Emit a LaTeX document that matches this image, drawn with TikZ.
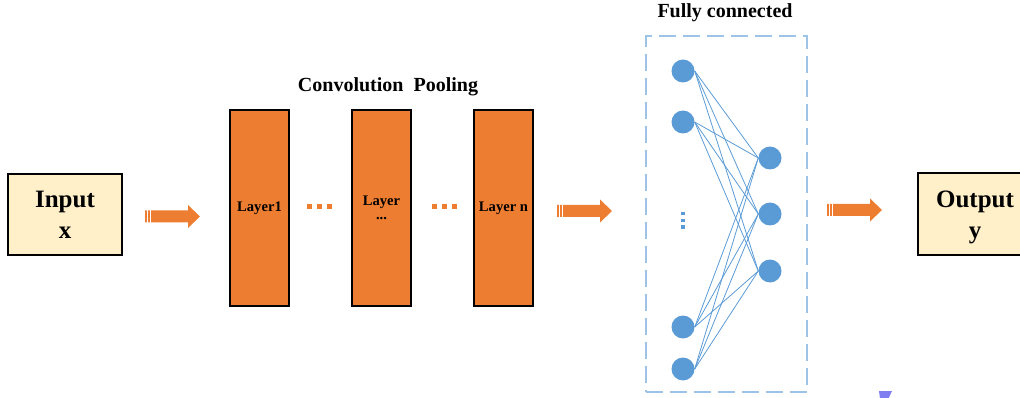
\documentclass[tikz,border=0pt]{standalone}
\usepackage{fontspec}
\setmainfont{Liberation Serif}
\definecolor{boxfill}{HTML}{FFF0C9}
\definecolor{layerorange}{HTML}{ED7D31}
\definecolor{neuronblue}{HTML}{5B9BD5}
\definecolor{framblue}{HTML}{9DC3E6}
\definecolor{markviolet}{HTML}{7F7FF2}
\tikzset{
  iobox/.style={draw=black, line width=2pt, fill=boxfill, minimum width=114pt, minimum height=81pt,
    align=center, font=\fontsize{25}{31}\selectfont\bfseries, inner sep=0pt},
  layerbox/.style={draw=black, line width=2pt, fill=layerorange, minimum width=59pt, minimum height=196pt,
    align=center, font=\fontsize{14.6}{17}\selectfont\bfseries, inner sep=0pt},
  title/.style={font=\fontsize{20}{23}\selectfont\bfseries, inner sep=0pt},
  neuron/.style={circle, fill=neuronblue, minimum size=23pt, inner sep=0pt},
  link/.style={draw=neuronblue, line width=0.8pt},
  fcbox/.style={draw=framblue, line width=1.6pt, dash pattern=on 17pt off 7pt, minimum width=161pt, minimum height=356pt},
  sqdot/.style={fill=layerorange, minimum size=5pt, inner sep=0pt},
  vdot/.style={fill=neuronblue, minimum size=3.5pt, inner sep=0pt},
  blockarrow/.pic={
    \fill[layerorange] (0,-6) -- (43,-6) -- (43,-11.5) -- (55,0) -- (43,11.5) -- (43,6) -- (0,6) -- cycle;
    \draw[white, line width=0.7pt] (2.5,-7) -- (2.5,7) (5.5,-7) -- (5.5,7);
  }
}
\begin{document}
\begin{tikzpicture}[x=1pt, y=-1pt]
\useasboundingbox (0,0) rectangle (1020,398);

% input and output blocks
\node[iobox] (in) at (65,214.5) {Input\\x};
\node[iobox] (out) at (975,214) {};
\node[font=\fontsize{25}{31}\selectfont\bfseries, align=center, inner sep=0pt] (outtxt) at (975,217.5) {Output\\y};

% convolution / pooling stack
\node[title] (cp) at (388,87) {Convolution\ \ Pooling};
\node[layerbox] (l1) at (259.5,208) {Layer1};
\node[layerbox] (l2) at (381.5,208) {Layer\\[-3pt]...};
\node[layerbox] (ln) at (503.5,208) {Layer n};

\foreach \i/\x in {a/309, b/319, c/329} \node[sqdot] (d1\i) at (\x,207) {};
\foreach \i/\x in {a/434.5, b/444.5, c/454.5} \node[sqdot] (d2\i) at (\x,207) {};

% block arrows between stages
\pic at (145,216.5) {blockarrow};
\pic at (557,211) {blockarrow};
\pic at (827,210) {blockarrow};

% fully connected part
\node[title] (fct) at (725,13) {Fully connected};
\node[fcbox] (fc) at (726.5,214) {};

\node[neuron] (i1) at (683,71) {};
\node[neuron] (i2) at (683,122) {};
\node[neuron] (i3) at (683,327) {};
\node[neuron] (i4) at (683,369) {};
\node[neuron] (o1) at (770,158) {};
\node[neuron] (o2) at (770,214) {};
\node[neuron] (o3) at (770,271) {};

\foreach \y/\n in {213.5/a, 220.5/b, 227/c} \node[vdot] (v\n) at (683,\y) {};

\foreach \a in {i1,i2,i3,i4}
  \foreach \b in {o1,o2,o3}
    \draw[link] (\a.east) -- (\b.west);

% small mark at the lower edge
\fill[markviolet] (879,391) -- (892,391) -- (888.5,398.5) -- (880,398.5) -- cycle;
\end{tikzpicture}
\end{document}
